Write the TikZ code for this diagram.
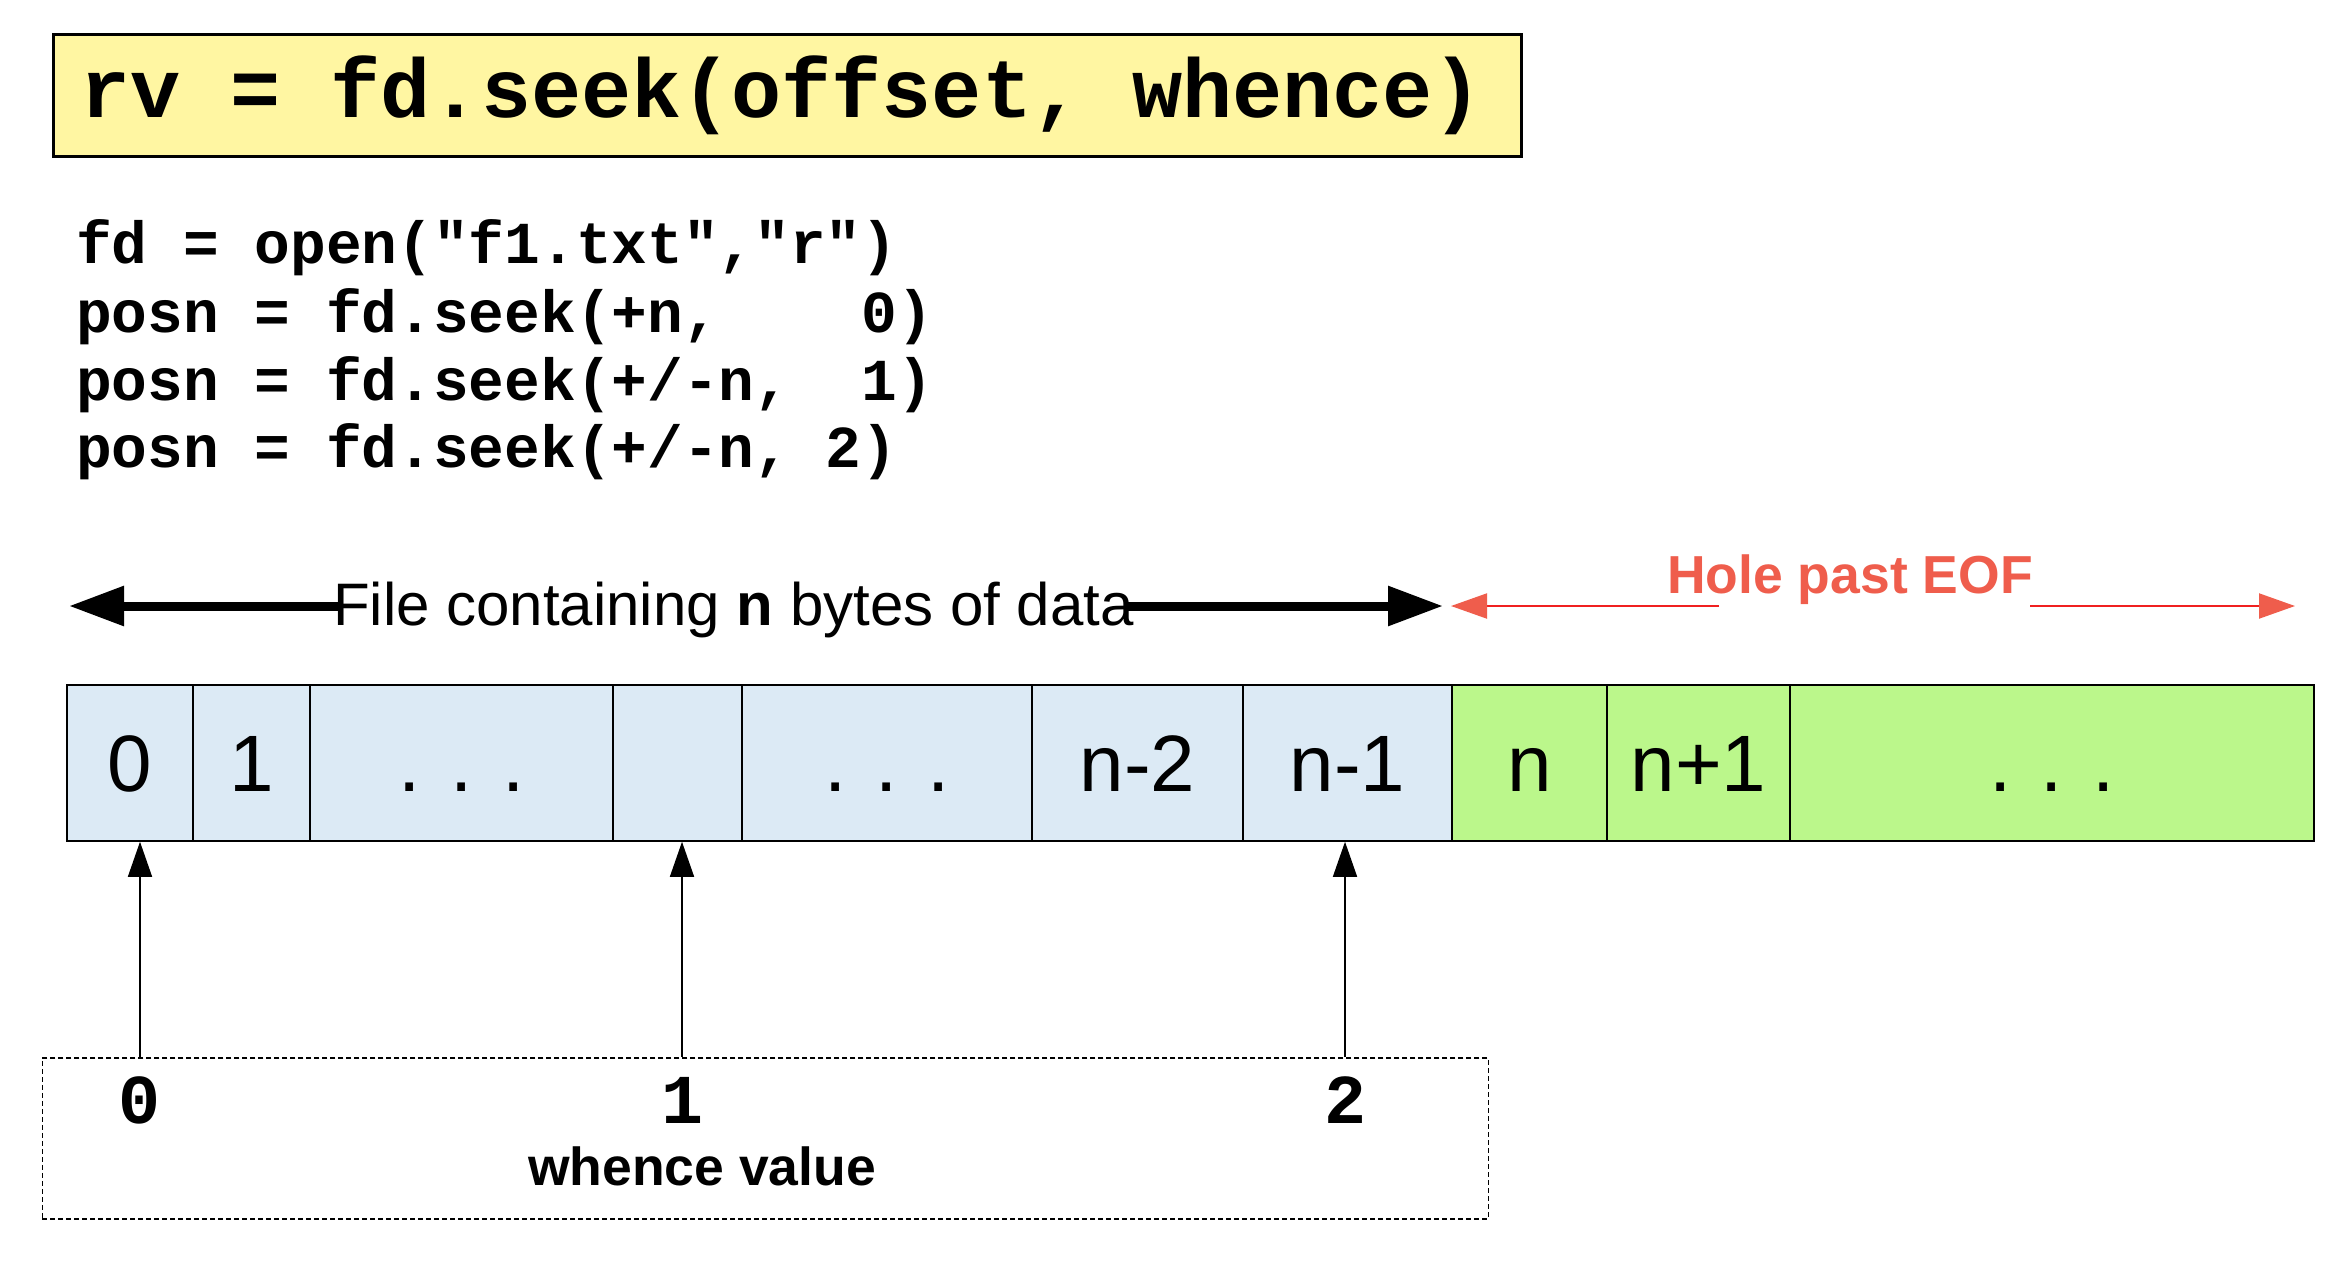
\documentclass[tikz,border=0pt]{standalone}
\usepackage{fontspec}
\setmainfont{Liberation Sans}
\newfontfamily\codefont{Liberation Mono}
\usetikzlibrary{arrows.meta}
\definecolor{titlefill}{HTML}{FFF6A2}
\definecolor{cellblue}{HTML}{DCEAF5}
\definecolor{cellgreen}{HTML}{BBF78B}
\definecolor{holered}{HTML}{EF5D4C}
\definecolor{holeline}{HTML}{F02020}
\tikzset{
  cellbox/.style={draw=black, line width=1.5pt, minimum height=156pt, inner sep=0pt,
    text height=56pt, text depth=0pt, font=\fontsize{80}{90}\selectfont},
  bluecell/.style={cellbox, fill=cellblue},
  greencell/.style={cellbox, fill=cellgreen},
  codeline/.style={anchor=base west, inner sep=0pt, font={\codefont\bfseries\fontsize{59.5}{68}\selectfont}},
  fatarrow/.style={line width=9pt, -{Triangle[length=55pt,width=38pt]}},
  redarrow/.style={draw=holeline, line width=2pt, -{Triangle[length=36pt,width=25pt,color=holered]}},
  thinarrow/.style={line width=1.5pt, -{Triangle[length=35pt,width=24pt]}},
  whencenum/.style={anchor=base, inner sep=0pt, font={\codefont\bfseries\fontsize{70}{80}\selectfont}}
}
\begin{document}
\begin{tikzpicture}[x=1pt,y=-1pt]
\fill[white] (0,0) rectangle (2334,1262);
\useasboundingbox (0,0) rectangle (2334,1262);

% title
\node[draw=black, line width=3pt, fill=titlefill, minimum width=1468pt, minimum height=122pt,
      inner sep=0pt, anchor=north west] (titlebox) at (52,33) {};
\node[anchor=base west, inner sep=0pt, font={\codefont\bfseries\fontsize{83.5}{90}\selectfont}]
      (titletext) at (80,117) {rv = fd.seek(offset, whence)};

% code lines
\node[codeline] (code1) at (76,263) {fd = open("f1.txt","r")};
\node[codeline] (code2) at (76,332) {posn = fd.seek(+n,~~~~0)};
\node[codeline] (code3) at (76,400) {posn = fd.seek(+/-n,~~1)};
\node[codeline] (code4) at (76,467) {posn = fd.seek(+/-n, 2)};

% file arrow
\node[anchor=base west, inner sep=0pt, font=\fontsize{60}{72}\selectfont] (filelbl) at (333,625)
      {File containing \textbf{n} bytes of data};
\coordinate (fileL) at (69,606);
\coordinate (fileR) at (1443,606);
\draw[fatarrow] ([xshift=8pt]filelbl.west |- fileL) -- (fileL);
\draw[fatarrow] ([xshift=-6pt]filelbl.east |- fileR) -- (fileR);

% hole arrow
\node[anchor=base west, inner sep=0pt, text=holered, font=\bfseries\fontsize{53.5}{60}\selectfont]
      (hole) at (1667,593) {Hole past EOF};
\coordinate (holeL) at (1451,606);
\coordinate (holeR) at (2295,606);
\draw[redarrow] ([xshift=52pt]hole.west |- holeL) -- (holeL);
\draw[redarrow] ([xshift=-3pt]hole.east |- holeR) -- (holeR);

% cells
\node[bluecell, minimum width=126pt] (c0) at (130,763) {0};
\node[bluecell, minimum width=117pt] (c1) at (251.5,763) {1};
\node[bluecell, minimum width=303pt] (c2) at (461.5,763) {. . .};
\node[bluecell, minimum width=129pt] (c3) at (677.5,763) {};
\node[bluecell, minimum width=290pt] (c4) at (887,763) {. . .};
\node[bluecell, minimum width=211pt] (c5) at (1137.5,763) {n-2};
\node[bluecell, minimum width=209pt] (c6) at (1347.5,763) {n-1};
\node[greencell, minimum width=155pt] (c7) at (1529.5,763) {n};
\node[greencell, minimum width=183pt] (c8) at (1698.5,763) {n+1};
\node[greencell, minimum width=524pt] (c9) at (2052,763) {. . .};

% whence box
\node[draw=black, dash pattern=on 5pt off 3pt, line width=1.5pt, minimum width=1446pt,
      minimum height=161pt, inner sep=0pt, anchor=north west] (wbox) at (41.5,1057) {};
\node[whencenum] (wv0) at (140,1123) {0};
\node[whencenum] (wv1) at (682,1123) {1};
\node[whencenum] (wv2) at (1345,1123) {2};
\node[anchor=base, inner sep=0pt, font=\bfseries\fontsize{53.5}{60}\selectfont] (wlabel) at (702,1185) {whence value};

\draw[thinarrow] (wbox.north -| wv0) -- (c0.south -| wv0);
\draw[thinarrow] (wbox.north -| wv1) -- (c3.south -| wv1);
\draw[thinarrow] (wbox.north -| wv2) -- (c6.south -| wv2);
\end{tikzpicture}
\end{document}
